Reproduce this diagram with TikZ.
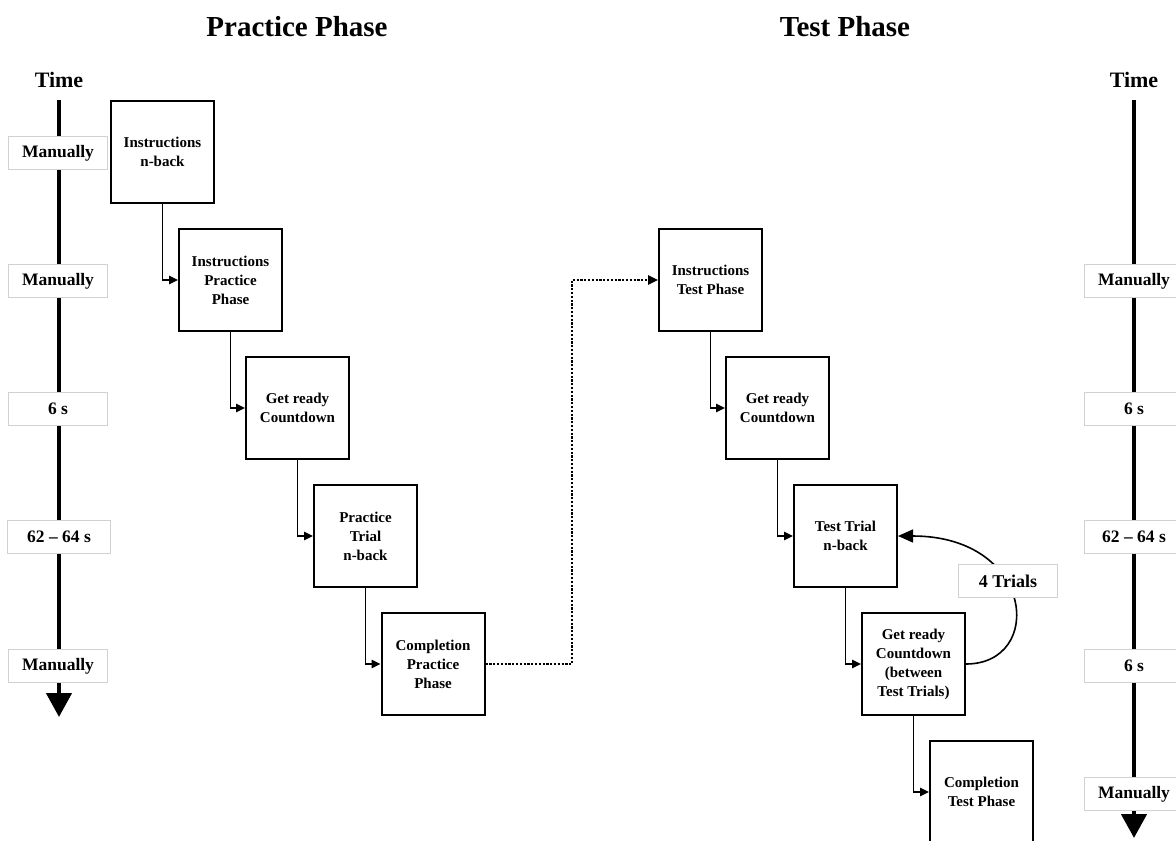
\documentclass[tikz,border=0pt]{standalone}
\usepackage{fontspec}
\setmainfont{Liberation Serif}
\usetikzlibrary{arrows.meta,calc}

\tikzset{
  x=1pt, y=1pt,
  stagebox/.style={draw, line width=2pt, fill=white, minimum width=103pt,
    minimum height=102pt, align=center, inner sep=2pt,
    font=\fontsize{15}{19}\selectfont\bfseries},
  timelabel/.style={draw=black!18, line width=0.8pt, fill=white,
    minimum width=99pt, minimum height=33pt, inner sep=1pt,
    font=\fontsize{17.5}{20}\selectfont\bfseries},
  heading/.style={font=\fontsize{22}{26}\selectfont\bfseries},
  title/.style={anchor=base, font=\fontsize{29}{32}\selectfont\bfseries},
  timeaxis/.style={line width=4.5pt, -{Triangle[length=24pt,width=25pt]}},
  flow/.style={line width=1.6pt, -{Triangle[length=9pt,width=8.5pt]}},
  jump/.style={line width=2.4pt, dash pattern=on 2.2pt off 1.6pt,
    -{Triangle[length=10pt,width=9pt]}},
}

\begin{document}
\begin{tikzpicture}
\clip (0,0) rectangle (1176,-841);
\fill[white] (0,0) rectangle (1176,-841);

% headings
\node[title] (hpractice) at (297,-36) {Practice Phase};
\node[title] (htest) at (845,-36) {Test Phase};
\node[heading] (timeL) at (59,-80) {Time};
\node[heading] (timeR) at (1134,-80) {Time};

% time axes
\coordinate (axLtop) at (59,-100);
\coordinate (axLend) at (59,-717);
\coordinate (axRtop) at (1134,-100);
\coordinate (axRend) at (1134,-838);
\draw[timeaxis] (axLtop) -- (axLend);
\draw[timeaxis] (axRtop) -- (axRend);

% durations on the left axis
\node[timelabel] (l1) at (58,-153) {Manually};
\node[timelabel] (l2) at (58,-281) {Manually};
\node[timelabel] (l3) at (58,-409) {6 s};
\node[timelabel, minimum width=103pt] (l4) at (59,-537) {62 -- 64 s};
\node[timelabel] (l5) at (58,-666) {Manually};

% durations on the right axis
\node[timelabel] (r1) at (1134,-281) {Manually};
\node[timelabel] (r2) at (1134,-409) {6 s};
\node[timelabel] (r3) at (1134,-537) {62 -- 64 s};
\node[timelabel] (r4) at (1134,-666) {6 s};
\node[timelabel] (r5) at (1134,-794) {Manually};

% practice phase
\node[stagebox] (b1) at (162.5,-152) {Instructions\\n-back};
\node[stagebox] (b2) at (230.5,-280) {Instructions\\Practice\\Phase};
\node[stagebox] (b3) at (297.5,-408) {Get ready\\Countdown};
\node[stagebox] (b4) at (365.5,-536) {Practice\\Trial\\n-back};
\node[stagebox] (b5) at (433,-664) {Completion\\Practice\\Phase};

% test phase
\node[stagebox] (t1) at (710.5,-280) {Instructions\\Test Phase};
\node[stagebox] (t2) at (777.5,-408) {Get ready\\Countdown};
\node[stagebox] (t3) at (845.5,-536) {Test Trial\\n-back};
\node[stagebox] (t4) at (913.5,-664) {Get ready\\Countdown\\(between\\Test Trials)};
\node[stagebox] (t5) at (981.5,-792) {Completion\\Test Phase};

% step connectors
\draw[flow] (b1.south) |- (b2.west);
\draw[flow] (b2.south) |- (b3.west);
\draw[flow] (b3.south) |- (b4.west);
\draw[flow] (b4.south) |- (b5.west);
\draw[flow] (t1.south) |- (t2.west);
\draw[flow] (t2.south) |- (t3.west);
\draw[flow] (t3.south) |- (t4.west);
\draw[flow] (t4.south) |- (t5.west);

% from practice to test
\coordinate (mid) at ($(b5.east)!0.5!(t1.west)$);
\draw[jump] (b5.east) -| (mid) |- (t1.west);

% repetition loop
\coordinate (lc1) at (1045,-664);
\coordinate (lc2) at (1035,-536);
\draw[line width=1.6pt, -{Triangle[length=15pt,width=13pt]}]
  (t4.east) .. controls (lc1) and (lc2) .. (t3.east);
\node[timelabel, font=\fontsize{18}{20}\selectfont\bfseries] (loop) at (1008,-581) {4 Trials};
\end{tikzpicture}
\end{document}
